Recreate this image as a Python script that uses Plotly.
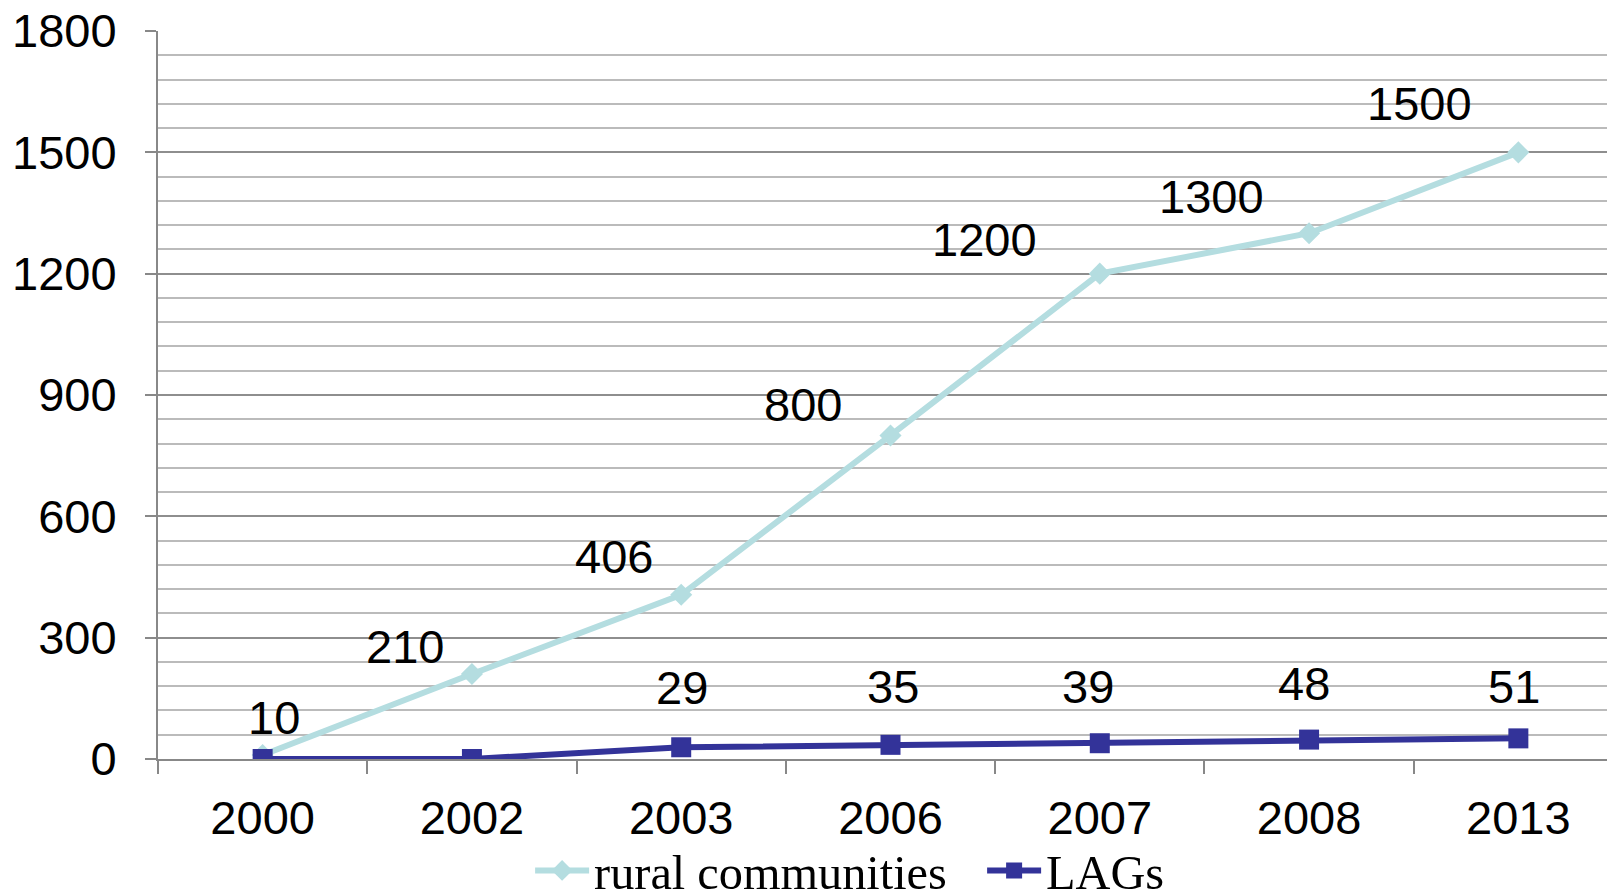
import plotly.graph_objects as go

years = ["2000", "2002", "2003", "2006", "2007", "2008", "2013"]
rural = [10, 210, 406, 800, 1200, 1300, 1500]
lags = [0, 0, 29, 35, 39, 48, 51]
lags_labelled = [False, False, True, True, True, True, True]
y_ticks = [0, 300, 600, 900, 1200, 1500, 1800]

# label offsets in pixels (style only)
rural_shift = [(11, 37), (-67, 28), (-67, 38), (-88, 31), (-115, 34), (-98, 37), (-99, 49)]
lags_shift = [(0, 60), (0, 60), (1, 60), (2, 58), (-12, 57), (-5, 56), (-4, 52)]

RURAL_C = "#B4DDE0"
LAGS_C = "#333399"
SANS = "Liberation Sans, Arial, sans-serif"
SERIF = "Liberation Serif, Times New Roman, serif"

fig = go.Figure()
fig.add_trace(go.Scatter(
    x=years, y=rural, name="rural communities", mode="lines+markers",
    line=dict(color=RURAL_C, width=6),
    marker=dict(symbol="diamond", size=17, color=RURAL_C),
))
fig.add_trace(go.Scatter(
    x=years, y=lags, name="LAGs", mode="lines+markers",
    line=dict(color=LAGS_C, width=6),
    marker=dict(symbol="square", size=20, color=LAGS_C),
))

annotations = []
for i, (v, (dx, dy)) in enumerate(zip(rural, rural_shift)):
    annotations.append(dict(x=i, y=v, xref="x", yref="y", text=str(v), showarrow=False,
                            xshift=dx, yshift=dy, font=dict(family=SANS, size=47, color="black")))
for i, (v, show, (dx, dy)) in enumerate(zip(lags, lags_labelled, lags_shift)):
    if show:
        annotations.append(dict(x=i, y=v, xref="x", yref="y", text=str(v), showarrow=False,
                                xshift=dx, yshift=dy, font=dict(family=SANS, size=47, color="black")))

fig.update_layout(
    width=1615, height=894,
    margin=dict(l=150, r=0, t=23, b=143, autoexpand=False),
    plot_bgcolor="white", paper_bgcolor="white",
    annotations=annotations,
    showlegend=True,
    legend=dict(orientation="h", x=0.254, y=-0.101, xanchor="left", yanchor="top",
                font=dict(family=SERIF, size=48.3, color="black"),
                itemwidth=54, entrywidth=383, tracegroupgap=0, bgcolor="rgba(0,0,0,0)"),
    xaxis=dict(type="category", range=[-0.5, 6.5], tickson="boundaries",
               ticks="outside", ticklen=13, tickwidth=2, tickcolor="#888888",
               showline=True, linecolor="#888888", linewidth=2,
               showgrid=False, zeroline=False,
               tickfont=dict(family=SANS, size=47, color="black"),
               ticklabelstandoff=17, ticklabeloverflow="allow"),
    yaxis=dict(range=[0, 1800], tickvals=y_ticks, ticks="outside", ticklen=11,
               tickwidth=2, tickcolor="#888888",
               showline=True, linecolor="#888888", linewidth=2,
               showgrid=True, gridcolor="#8E8E8E", gridwidth=1.5, zeroline=False,
               minor=dict(dtick=60, showgrid=True, gridcolor="#BBBBBB", gridwidth=1.5),
               tickfont=dict(family=SANS, size=47, color="black"),
               ticklabelstandoff=19, ticklabeloverflow="allow"),
)

fig.write_html("out.html")
